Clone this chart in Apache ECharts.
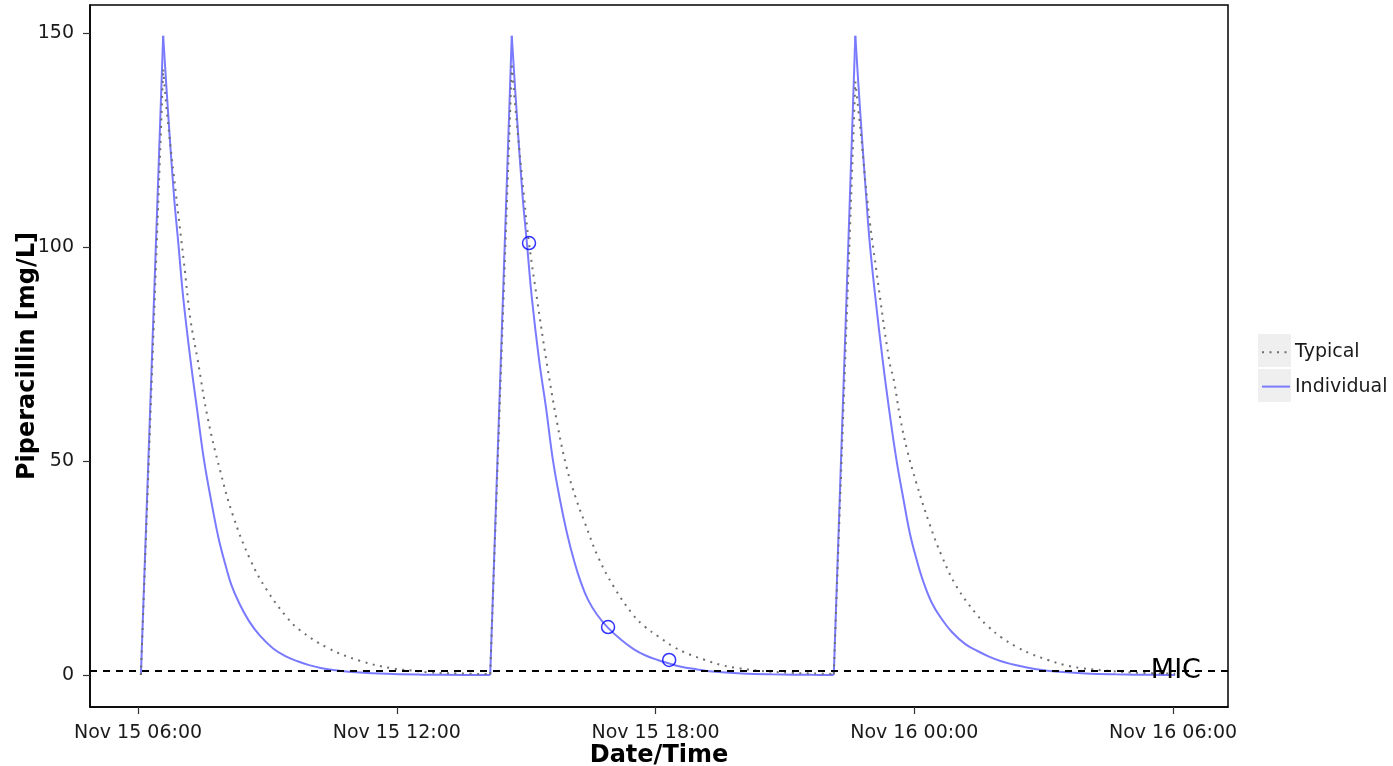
<!DOCTYPE html>
<html>
<head>
<meta charset="utf-8">
<title>Piperacillin concentration</title>
<script src="https://cdn.jsdelivr.net/npm/echarts@6.0.0/dist/echarts.min.js"></script>
<style>
  html, body { margin: 0; padding: 0; background: #ffffff; overflow: hidden; }
  #chart { width: 1393px; height: 766px; }
</style>
</head>
<body>
<div id="chart"></div>
<script>
// Individual (posterior) prediction
const individualTimes = [
  '2023-11-15 06:04', '2023-11-15 06:35', '2023-11-15 06:42', '2023-11-15 06:50', '2023-11-15 06:56',
  '2023-11-15 07:03', '2023-11-15 07:13', '2023-11-15 07:23', '2023-11-15 07:32', '2023-11-15 07:42',
  '2023-11-15 07:52', '2023-11-15 08:02', '2023-11-15 08:10', '2023-11-15 08:21', '2023-11-15 08:34',
  '2023-11-15 08:49', '2023-11-15 09:08', '2023-11-15 09:25', '2023-11-15 09:42', '2023-11-15 09:58',
  '2023-11-15 10:14', '2023-11-15 10:29', '2023-11-15 10:53', '2023-11-15 11:14', '2023-11-15 11:55',
  '2023-11-15 12:37', '2023-11-15 13:33', '2023-11-15 14:10',
  '2023-11-15 14:40', '2023-11-15 14:47', '2023-11-15 14:55', '2023-11-15 15:01',
  '2023-11-15 15:08', '2023-11-15 15:18', '2023-11-15 15:28', '2023-11-15 15:37', '2023-11-15 15:47',
  '2023-11-15 15:57', '2023-11-15 16:07', '2023-11-15 16:15', '2023-11-15 16:26', '2023-11-15 16:39',
  '2023-11-15 16:54', '2023-11-15 17:13', '2023-11-15 17:30', '2023-11-15 17:47', '2023-11-15 18:03',
  '2023-11-15 18:19', '2023-11-15 18:34', '2023-11-15 18:58', '2023-11-15 19:19', '2023-11-15 20:00',
  '2023-11-15 20:42', '2023-11-15 21:38', '2023-11-15 22:08',
  '2023-11-15 22:38', '2023-11-15 22:45', '2023-11-15 22:53', '2023-11-15 22:58', '2023-11-15 23:06',
  '2023-11-15 23:16', '2023-11-15 23:25', '2023-11-15 23:35', '2023-11-15 23:45', '2023-11-15 23:54',
  '2023-11-16 00:04', '2023-11-16 00:13', '2023-11-16 00:24', '2023-11-16 00:36', '2023-11-16 00:52',
  '2023-11-16 01:11', '2023-11-16 01:28', '2023-11-16 01:44', '2023-11-16 02:01', '2023-11-16 02:16',
  '2023-11-16 02:32', '2023-11-16 02:55', '2023-11-16 03:16', '2023-11-16 03:58', '2023-11-16 04:40',
  '2023-11-16 05:35', '2023-11-16 06:03'
];
const individualConc = [
  0, 149.3, 131, 112, 101,
  88, 73.6, 61, 50, 40.5,
  32, 25.5, 21, 16.7, 12.7,
  9.3, 6.2, 4.4, 3.2, 2.3,
  1.65, 1.2, 0.75, 0.5, 0.2,
  0.08, 0.02, 0,
  149.3, 131, 112, 101,
  88, 73.6, 62, 50.5, 41,
  33, 26.5, 22.2, 17.6, 14.0,
  11.0, 8.1, 6.0, 4.5, 3.5,
  2.7, 2.0, 1.3, 0.8, 0.35,
  0.15, 0.03, 0,
  149.3, 131, 112, 101, 88,
  73.6, 62, 50.5, 41, 33,
  26.5, 21.6, 17.0, 13.6, 10.1,
  7.2, 5.6, 4.3, 3.2, 2.5,
  1.9, 1.2, 0.8, 0.35, 0.15,
  0.03, 0
];

// Typical (population) prediction
const typicalTimes = [
  '2023-11-15 06:04', '2023-11-15 06:35', '2023-11-15 06:42', '2023-11-15 06:53', '2023-11-15 07:04',
  '2023-11-15 07:13', '2023-11-15 07:23', '2023-11-15 07:37', '2023-11-15 07:54', '2023-11-15 08:12',
  '2023-11-15 08:36', '2023-11-15 08:59', '2023-11-15 09:27', '2023-11-15 09:45', '2023-11-15 10:23',
  '2023-11-15 11:09', '2023-11-15 11:55', '2023-11-15 12:23', '2023-11-15 12:46', '2023-11-15 13:28',
  '2023-11-15 14:10', '2023-11-15 14:40', '2023-11-15 14:47', '2023-11-15 14:57', '2023-11-15 15:04',
  '2023-11-15 15:15', '2023-11-15 15:28', '2023-11-15 15:43', '2023-11-15 15:56', '2023-11-15 16:10',
  '2023-11-15 16:22', '2023-11-15 16:40', '2023-11-15 17:02', '2023-11-15 17:29', '2023-11-15 17:45',
  '2023-11-15 18:04', '2023-11-15 18:25', '2023-11-15 18:46', '2023-11-15 19:09', '2023-11-15 19:32',
  '2023-11-15 19:55', '2023-11-15 20:23', '2023-11-15 21:10', '2023-11-15 21:51', '2023-11-15 22:08',
  '2023-11-15 22:38', '2023-11-15 22:46', '2023-11-15 22:55', '2023-11-15 23:07', '2023-11-15 23:25',
  '2023-11-15 23:32', '2023-11-15 23:40', '2023-11-15 23:50', '2023-11-16 00:03', '2023-11-16 00:21',
  '2023-11-16 00:38', '2023-11-16 00:59', '2023-11-16 01:27', '2023-11-16 01:43', '2023-11-16 02:01',
  '2023-11-16 02:22', '2023-11-16 02:43', '2023-11-16 03:06', '2023-11-16 03:30', '2023-11-16 03:53',
  '2023-11-16 04:28', '2023-11-16 05:14', '2023-11-16 06:03'
];
const typicalConc = [
  0, 141.4, 128.5, 112, 96.2,
  83, 73.6, 60, 47.9, 37.3,
  27.0, 19.9, 13.5, 10.5, 6.4,
  3.3, 1.5, 1.0, 0.6, 0.35,
  0.2, 142.3, 129, 111.8, 100.9,
  88, 73.6, 59, 48.7, 40.9,
  35.4, 27.6, 20.6, 14.0, 11.3,
  9.0, 6.6, 4.9, 3.5, 2.3,
  1.6, 1.0, 0.5, 0.3, 0.25,
  138.6, 126, 110.3, 94.8, 73.6,
  68.5, 60.4, 52.6, 44.8, 35.4,
  27.9, 20.6, 14.1, 11.3, 8.8,
  6.6, 4.9, 3.5, 2.3, 1.6,
  1.0, 0.5, 0.3
];

// Measured concentrations
const observedTimes = ['2023-11-15 15:04', '2023-11-15 16:54', '2023-11-15 18:19'];
const observedConc = [100.9, 11.2, 3.5];

// Minimum inhibitory concentration
const micValue = 1;
const micLabelTime = '2023-11-16 06:04';

// Axis ticks and extents
const xTickTimes = ['2023-11-15 06:00', '2023-11-15 12:00', '2023-11-15 18:00', '2023-11-16 00:00', '2023-11-16 06:00'];
const yTickValues = [0, 50, 100, 150];
const xRange = ['2023-11-15 04:53:12', '2023-11-16 07:16:30'];
const yRange = [-7.48, 156.5];

const monthNames = ['Jan', 'Feb', 'Mar', 'Apr', 'May', 'Jun', 'Jul', 'Aug', 'Sep', 'Oct', 'Nov', 'Dec'];

function toTime(s) {
  const m = s.match(/(\d+)-(\d+)-(\d+) (\d+):(\d+)(?::(\d+))?/);
  return new Date(+m[1], +m[2] - 1, +m[3], +m[4], +m[5], +(m[6] || 0)).getTime();
}
function pad(n) { return (n < 10 ? '0' : '') + n; }
function formatTick(v) {
  const d = new Date(v);
  return monthNames[d.getMonth()] + ' ' + d.getDate() + ' ' + pad(d.getHours()) + ':' + pad(d.getMinutes());
}
function pairs(times, values) {
  return times.map((t, i) => [toTime(t), values[i]]);
}
// Split a profile into infusion (straight rise) and elimination (smooth decay) pieces
function pieces(times, values) {
  const pts = pairs(times, values);
  const out = [];
  let run = [pts[0]];
  for (let i = 1; i < pts.length; i++) {
    if (values[i] > values[i - 1] + 20) {
      if (run.length > 1) out.push({ smooth: true, data: run });
      out.push({ smooth: false, data: [pts[i - 1], pts[i]] });
      run = [pts[i]];
    } else {
      run.push(pts[i]);
    }
  }
  if (run.length > 1) out.push({ smooth: true, data: run });
  return out;
}

const FONT = 'DejaVu Sans';
const TEXT = '#1a1a1a';

const individualStyle = { color: '#7a7aff', width: 2 };
const typicalStyle = { color: '#6e6e6e', width: 2, type: [2, 5.5] };

const series = [];
pieces(individualTimes, individualConc).forEach(p => {
  series.push({
    name: 'Individual', type: 'line', data: p.data,
    smooth: p.smooth ? 0.4 : false,
    symbol: 'none', lineStyle: individualStyle, itemStyle: { color: individualStyle.color }, z: 2
  });
});
pieces(typicalTimes, typicalConc).forEach(p => {
  series.push({
    name: 'Typical', type: 'line', data: p.data,
    smooth: p.smooth ? 0.4 : false,
    symbol: 'none', lineStyle: typicalStyle, itemStyle: { color: typicalStyle.color }, z: 3
  });
});
series.push({
  name: 'Observed',
  type: 'scatter',
  data: pairs(observedTimes, observedConc),
  symbol: 'circle',
  symbolSize: 13,
  itemStyle: { color: 'transparent', borderColor: '#0000ff', borderWidth: 1.5 },
  z: 5,
  markLine: {
    silent: true,
    symbol: ['none', 'none'],
    label: { show: false },
    lineStyle: { color: '#000', width: 1.8, type: [7, 6] },
    data: [{ yAxis: micValue }]
  },
  markPoint: {
    silent: true,
    symbol: 'circle',
    symbolSize: 0,
    label: {
      show: true, position: 'inside', formatter: 'MIC',
      fontFamily: FONT, fontSize: 27, color: '#000'
    },
    data: [{ coord: [toTime(micLabelTime), micValue] }]
  }
});

const chart = echarts.init(document.getElementById('chart'), null, { renderer: 'canvas' });

chart.setOption({
  animation: false,
  backgroundColor: '#ffffff',
  textStyle: { fontFamily: FONT },
  grid: {
    left: 90, right: 165, top: 5, bottom: 59,
    containLabel: false,
    outerBoundsMode: 'none',
    show: true, borderColor: '#000000', borderWidth: 1.5, backgroundColor: 'transparent'
  },
  xAxis: {
    // date/time values are epoch milliseconds on a linear scale
    type: 'value',
    min: toTime(xRange[0]),
    max: toTime(xRange[1]),
    name: 'Date/Time',
    nameLocation: 'middle',
    nameGap: 37,
    nameMoveOverlap: false,
    nameTextStyle: { fontFamily: FONT, fontSize: 24, fontWeight: 'bold', color: '#000' },
    axisLine: { show: true, onZero: false, lineStyle: { color: '#000', width: 1.5 } },
    axisTick: {
      show: true, length: 7, lineStyle: { color: '#333', width: 1.2 },
      customValues: xTickTimes.map(toTime)
    },
    axisLabel: {
      show: true, margin: 17, fontFamily: FONT, fontSize: 19, color: TEXT,
      customValues: xTickTimes.map(toTime),
      formatter: formatTick,
      hideOverlap: false
    },
    splitLine: { show: false }
  },
  yAxis: {
    type: 'value',
    min: yRange[0],
    max: yRange[1],
    name: 'Piperacillin [mg/L]',
    nameLocation: 'middle',
    nameGap: 50,
    nameMoveOverlap: false,
    nameTextStyle: { fontFamily: FONT, fontSize: 24, fontWeight: 'bold', color: '#000' },
    axisLine: { show: true, onZero: false, lineStyle: { color: '#000', width: 1.5 } },
    axisTick: {
      show: true, length: 7, lineStyle: { color: '#333', width: 1.2 },
      customValues: yTickValues
    },
    axisLabel: {
      show: true, margin: 16, fontFamily: FONT, fontSize: 19, color: TEXT,
      customValues: yTickValues
    },
    splitLine: { show: false }
  },
  legend: {
    orient: 'vertical',
    left: 1261,
    top: 339,
    padding: 0,
    itemWidth: 28,
    itemHeight: 33,
    itemGap: 8,
    z: 10,
    data: ['Typical', 'Individual'],
    itemStyle: { opacity: 0 },
    textStyle: { fontFamily: FONT, fontSize: 19, color: TEXT }
  },
  graphic: [
    { type: 'rect', z: 1, shape: { x: 1258, y: 334, width: 33, height: 33 }, style: { fill: '#efefef' }, silent: true },
    { type: 'rect', z: 1, shape: { x: 1258, y: 369, width: 33, height: 33 }, style: { fill: '#efefef' }, silent: true }
  ],
  series: series
});
</script>
</body>
</html>
